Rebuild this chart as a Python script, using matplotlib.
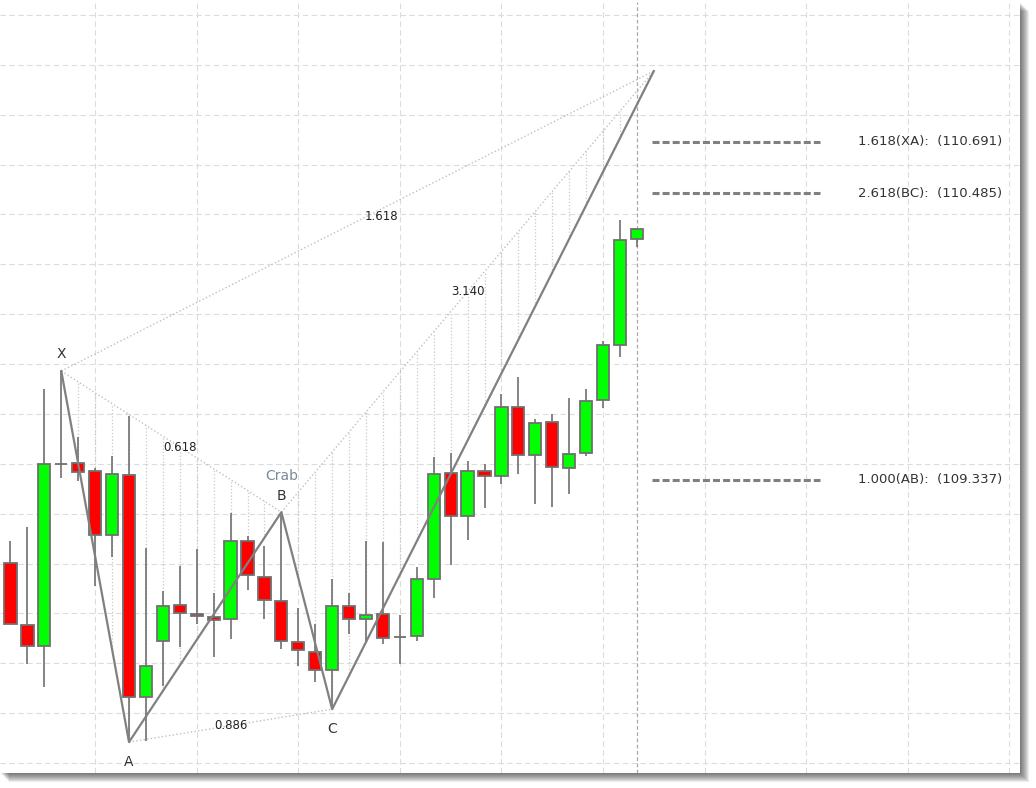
import numpy as np
import matplotlib.pyplot as plt
from matplotlib.patches import Rectangle

# candle data
opens = [109.002, 108.753, 108.669, 109.399, 109.403, 109.371, 109.114, 109.355,
         108.464, 108.689, 108.833, 108.797, 108.785, 108.777, 109.090, 108.946,
         108.849, 108.685, 108.645, 108.573, 108.829, 108.777, 108.797, 108.705,
         108.709, 108.938, 109.363, 109.190, 109.371, 109.351, 109.628, 109.435,
         109.567, 109.383, 109.443, 109.656, 109.876, 110.302]
highs = [109.090, 109.146, 109.700, 109.772, 109.507, 109.383, 109.431, 109.591,
         109.062, 108.890, 108.990, 109.058, 108.882, 109.202, 109.110, 109.070,
         109.206, 108.821, 108.757, 108.938, 108.882, 109.090, 109.086, 108.793,
         108.986, 109.427, 109.443, 109.411, 109.399, 109.680, 109.748, 109.580,
         109.600, 109.664, 109.700, 109.892, 110.378, 110.342]
lows = [108.757, 108.597, 108.504, 109.343, 109.331, 108.910, 109.026, 108.284,
        108.288, 108.508, 108.665, 108.757, 108.625, 108.697, 108.894, 108.777,
        108.657, 108.589, 108.524, 108.416, 108.717, 108.685, 108.677, 108.597,
        108.689, 108.861, 108.994, 109.094, 109.222, 109.319, 109.359, 109.239,
        109.227, 109.279, 109.431, 109.624, 109.828, 110.269]
closes = [108.757, 108.669, 109.399, 109.399, 109.367, 109.114, 109.359, 108.464,
          108.589, 108.829, 108.801, 108.789, 108.773, 109.090, 108.954, 108.853,
          108.689, 108.653, 108.573, 108.829, 108.777, 108.793, 108.701, 108.705,
          108.938, 109.359, 109.190, 109.371, 109.351, 109.628, 109.435, 109.563,
          109.387, 109.439, 109.652, 109.876, 110.297, 110.342]

# harmonic pattern points X, A, B, C, D
pat_bar = [3, 7, 16, 19, 38]
pat_price = [109.772, 108.284, 109.206, 108.416, 110.975]
pat_names = ["X", "A", "B", "C"]
pattern_name = "Crab"
ratios = ["0.618", "0.886", "1.618", "3.140"]

level_names = ["1.618(XA):", "2.618(BC):", "1.000(AB):"]
level_values = [110.691, 110.485, 109.337]

W, H = 1036, 788
fig = plt.figure(figsize=(W / 100, H / 100), dpi=100)
ax = fig.add_axes([0, 15 / H, 1020 / W, 771 / H])
ax.set_zorder(2)

# drop shadow
for k in range(1, 10):
    fig.patches.append(Rectangle((k / W, (15 - k) / H), 1020 / W, 771 / H,
                                 transform=fig.transFigure, facecolor="black",
                                 alpha=0.075, edgecolor="none", zorder=0))

ax.set_xlim(-0.62, 59.63)
ax.set_ylim(108.160, 111.252)
ax.set_xticks(np.arange(5, 60, 6))
ax.set_yticks(np.arange(108.2, 111.21, 0.2))
ax.grid(True, color="#dcdcdc", linestyle=(0, (5, 3)), linewidth=0.8)
ax.set_axisbelow(True)
ax.tick_params(length=0, labelbottom=False, labelleft=False)
for s in ax.spines.values():
    s.set_visible(False)

n = len(opens)
idx = np.arange(n)
o = np.array(opens)
c = np.array(closes)

# current bar marker
ax.axvline(n - 1, color="#a8a8a8", linestyle=(0, (3, 2)), linewidth=0.9, zorder=1)

# hatching inside XAB and BCD
X, A, B, C, D = pat_bar
xp, ap, bp, cp, dp = pat_price
for i in range(X + 1, B):
    top = np.interp(i, [X, B], [xp, bp])
    bot = np.interp(i, [X, A, B], [xp, ap, bp])
    ax.vlines(i, bot, top, colors="#c8c8c8", linestyles=":", linewidth=0.9, zorder=1.5)
for i in range(B + 1, D):
    top = np.interp(i, [B, D], [bp, dp])
    bot = np.interp(i, [B, C, D], [bp, cp, dp])
    ax.vlines(i, bot, top, colors="#c8c8c8", linestyles=":", linewidth=0.9, zorder=1.5)

# dotted ratio legs
for a, b in [(0, 2), (1, 3), (0, 4), (2, 4)]:
    ax.plot([pat_bar[a], pat_bar[b]], [pat_price[a], pat_price[b]],
            color="#c0c0c0", linestyle=":", linewidth=1.0, zorder=1.6)

# candles
ax.vlines(idx, lows, highs, colors="#707070", linewidth=1.2, zorder=3)
cols = np.where(c > o, "#00ff00", np.where(c < o, "#ff0000", "#707070"))
ax.bar(idx, np.abs(c - o), bottom=np.minimum(o, c), width=0.72, color=cols,
       edgecolor="#707070", linewidth=1.3, zorder=4)

# pattern zig-zag
ax.plot(pat_bar, pat_price, color="#808080", linewidth=1.6, zorder=5)

# point labels
offs = [12, -14, 12, -14]
for k, name in enumerate(pat_names):
    ax.annotate(name, (pat_bar[k], pat_price[k]), xytext=(0, offs[k]),
                textcoords="offset points", ha="center", va="center",
                fontsize=10, color="#333333", zorder=6)
ax.annotate(pattern_name, (B, bp), xytext=(0, 26), textcoords="offset points",
            ha="center", va="center", fontsize=10, color="#7a8a99", zorder=6)

# ratio labels
legs = [(0, 2, 0.54, 0), (1, 3, 0.5, 0), (0, 4, 0.54, -5), (2, 4, 0.5, 0)]
for (a, b, f, dy), r in zip(legs, ratios):
    tx = pat_bar[a] + f * (pat_bar[b] - pat_bar[a])
    ty = pat_price[a] + f * (pat_price[b] - pat_price[a])
    ax.annotate(r, (tx, ty), xytext=(0, dy), textcoords="offset points",
                ha="center", va="center", fontsize=8.5, color="#222222", zorder=6)

# projection levels
for name, v in zip(level_names, level_values):
    ax.plot([37.9, 47.8], [v, v], color="#808080", linewidth=2.2,
            dashes=(2.3, 1.0), zorder=5)
    ax.text(58.56, v, f"{name}  ({v:.3f})", ha="right", va="center",
            fontsize=9.5, color="#333333", zorder=6)

fig.savefig("out.png", dpi=100)
